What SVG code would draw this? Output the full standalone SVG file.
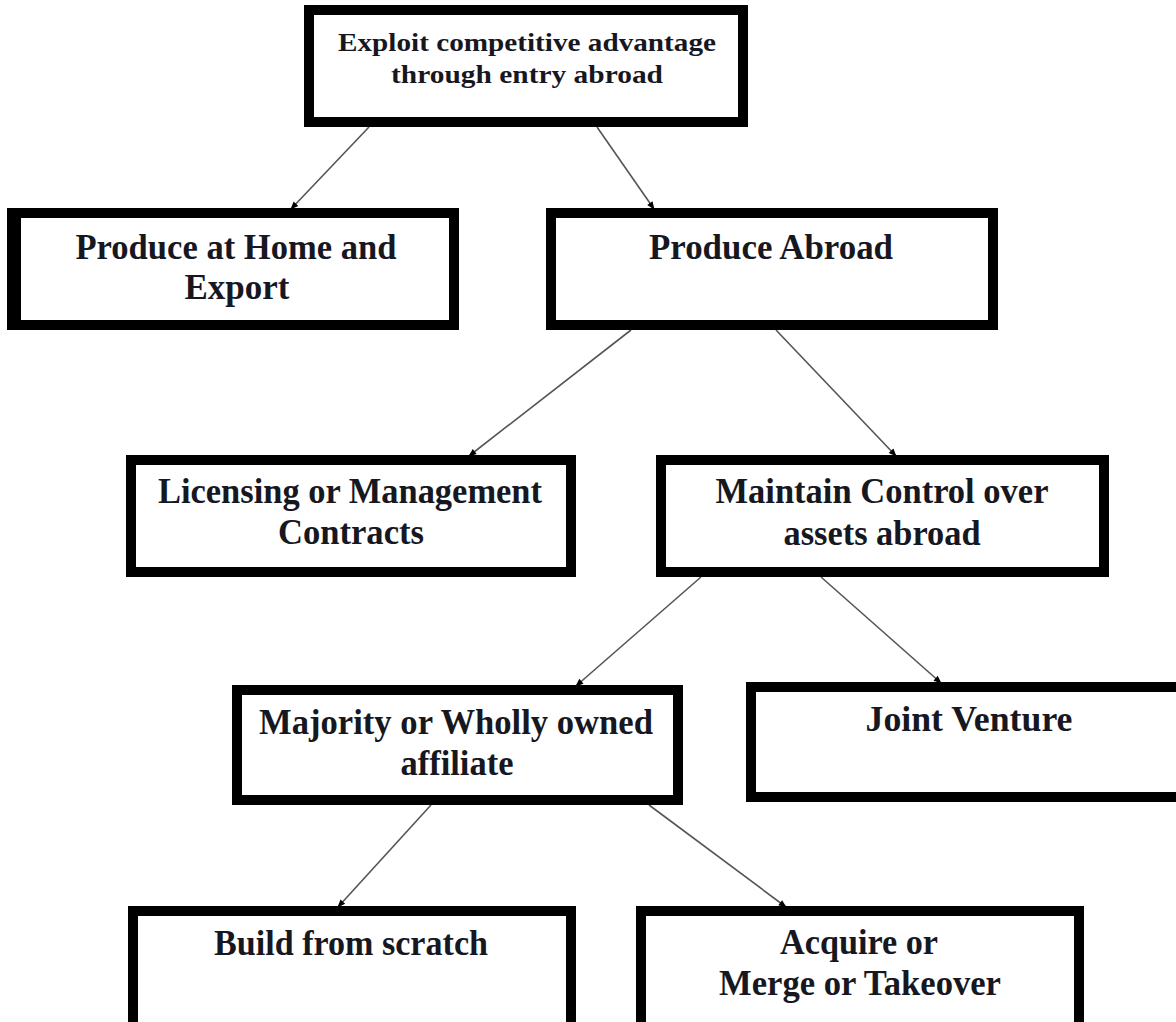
<svg xmlns="http://www.w3.org/2000/svg" width="1176" height="1022" viewBox="0 0 1176 1022">
<style>
.box{fill:#fff;stroke:#000;stroke-width:10}
.t{font-family:"Liberation Serif","Times New Roman",serif;font-weight:bold;fill:#17181f;text-anchor:middle}
.big{font-size:35px}
.small{font-size:25px}
.c{stroke:#555;stroke-width:1.6;fill:none;marker-end:url(#ah)}
</style>
<defs>
<marker id="ah" viewBox="0 0 10 10" refX="9" refY="5" markerWidth="9" markerHeight="8" markerUnits="userSpaceOnUse" orient="auto">
<path d="M0,1 L10,5 L0,9 z" fill="#000"/>
</marker>
</defs>
<rect width="1176" height="1022" fill="#fff"/>
<g id="connectors">
<line class="c" x1="369" y1="127" x2="291" y2="209"/>
<line class="c" x1="597" y1="127" x2="654" y2="209"/>
<line class="c" x1="631" y1="330" x2="469" y2="456"/>
<line class="c" x1="776" y1="330" x2="896" y2="456"/>
<line class="c" x1="701" y1="577" x2="576" y2="686"/>
<line class="c" x1="821" y1="577" x2="941" y2="683"/>
<line class="c" x1="431" y1="805" x2="338" y2="907"/>
<line class="c" x1="649" y1="805" x2="786" y2="907"/>
</g>
<g id="n-exploit">
<rect class="box" x="309" y="10" width="434" height="112"/>
<text class="t small" x="527" y="51" textLength="378" lengthAdjust="spacingAndGlyphs">Exploit competitive advantage</text>
<text class="t small" x="527" y="83" textLength="272" lengthAdjust="spacingAndGlyphs">through entry abroad</text>
</g>
<g id="n-home">
<rect class="box" x="12" y="213" width="442" height="112"/>
<rect x="7" y="208" width="14" height="122" fill="#000"/>
<text class="t big" x="236" y="259" textLength="321" lengthAdjust="spacingAndGlyphs">Produce at Home and</text>
<text class="t big" x="237" y="299" textLength="105" lengthAdjust="spacingAndGlyphs">Export</text>
</g>
<g id="n-abroad">
<rect class="box" x="551" y="213" width="442" height="112"/>
<text class="t big" x="771" y="259" textLength="244" lengthAdjust="spacingAndGlyphs">Produce Abroad</text>
</g>
<g id="n-licensing">
<rect class="box" x="131" y="460" width="440" height="112"/>
<text class="t big" x="350" y="503" textLength="384" lengthAdjust="spacingAndGlyphs">Licensing or Management</text>
<text class="t big" x="351" y="544" textLength="146" lengthAdjust="spacingAndGlyphs">Contracts</text>
</g>
<g id="n-control">
<rect class="box" x="661" y="460" width="443" height="112"/>
<text class="t big" x="882" y="503" textLength="333" lengthAdjust="spacingAndGlyphs">Maintain Control over</text>
<text class="t big" x="882" y="545" textLength="197" lengthAdjust="spacingAndGlyphs">assets abroad</text>
</g>
<g id="n-majority">
<rect class="box" x="237" y="690" width="441" height="110"/>
<text class="t big" x="456" y="734" textLength="394" lengthAdjust="spacingAndGlyphs">Majority or Wholly owned</text>
<text class="t big" x="457" y="775" textLength="113" lengthAdjust="spacingAndGlyphs">affiliate</text>
</g>
<g id="n-jv">
<rect class="box" x="751" y="687" width="440" height="110"/>
<text class="t big" x="969" y="731" textLength="207" lengthAdjust="spacingAndGlyphs">Joint Venture</text>
</g>
<g id="n-build">
<rect class="box" x="133" y="911" width="438" height="125"/>
<text class="t big" x="351" y="955" textLength="274" lengthAdjust="spacingAndGlyphs">Build from scratch</text>
</g>
<g id="n-acquire">
<rect class="box" x="641" y="911" width="438" height="125"/>
<text class="t big" x="859" y="954" textLength="158" lengthAdjust="spacingAndGlyphs">Acquire or</text>
<text class="t big" x="860" y="995" textLength="282" lengthAdjust="spacingAndGlyphs">Merge or Takeover</text>
</g>
</svg>
